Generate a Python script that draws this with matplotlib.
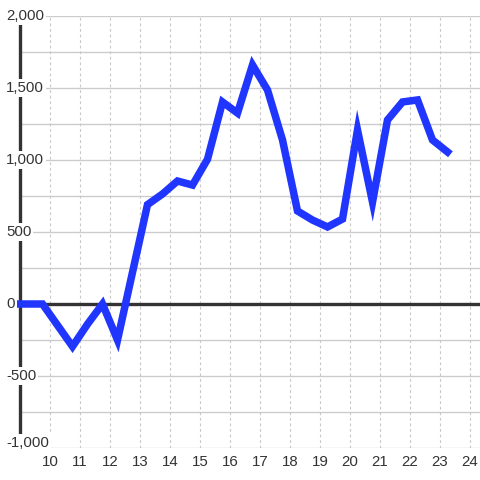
import numpy as np
import matplotlib.pyplot as plt
from matplotlib.transforms import blended_transform_factory, offset_copy

plt.rcParams['font.family'] = ['Liberation Sans', 'DejaVu Sans']

hours = [9.0, 9.75, 10.75, 11.25, 11.75, 12.25, 13.25, 13.75, 14.25, 14.75,
         15.25, 15.75, 16.25, 16.75, 17.25, 17.75, 18.25, 18.75, 19.25, 19.75,
         20.25, 20.75, 21.25, 21.75, 22.25, 22.75, 23.25]
values = [0, 0, -295, -140, 0, -250, 690, 764, 854, 826,
          1005, 1403, 1326, 1660, 1486, 1139, 646, 583, 535, 590,
          1208, 708, 1278, 1403, 1417, 1139, 1056]

x_ticks = list(range(10, 25))
y_ticks = [-1000, -500, 0, 500, 1000, 1500, 2000]
y_minor = [-750, -250, 250, 750, 1250, 1750]

text_color = '#333333'
grid_color = '#cccccc'

fig = plt.figure(figsize=(4.8, 4.8), dpi=100)
ax = fig.add_axes([20 / 480, 32 / 480, 460 / 480, 432 / 480])
ax.set_xlim(9, 24.333)
ax.set_ylim(-1000, 2000)

for s in ['top', 'right', 'bottom']:
    ax.spines[s].set_visible(False)
ax.spines['left'].set_color(text_color)
ax.spines['left'].set_linewidth(2.4)
ax.spines['left'].set_zorder(3)

# grid
for v in y_ticks + y_minor:
    ax.axhline(v, color=grid_color, lw=1, zorder=1)
for h in x_ticks:
    ax.axvline(h, color='#c8c8c8', lw=0.8, ls=(0, (2.5, 2.5)), zorder=1)
ax.axhline(0, color=text_color, lw=2.4, zorder=2)

ax.plot(hours, values, color='#2036ff', lw=5.4, solid_joinstyle='miter', zorder=4,
        clip_on=False)

ax.set_xticks(x_ticks)
ax.set_xticklabels([str(h) for h in x_ticks], fontsize=10.8, color=text_color)
ax.tick_params(axis='x', length=0, pad=5)
ax.set_yticks([])

trans = blended_transform_factory(fig.transFigure, ax.transData)
for v in y_ticks:
    t = trans
    if v == y_ticks[0]:
        t = offset_copy(trans, fig=fig, y=5, units='dots')
    ax.text(6 / 480, v, f'{v:,}', transform=t, ha='left', va='center',
            fontsize=10.8, color=text_color, zorder=5, clip_on=False,
            bbox=dict(facecolor='white', edgecolor='none', pad=1.5))

fig.savefig('out.png', dpi=100, facecolor='white')
